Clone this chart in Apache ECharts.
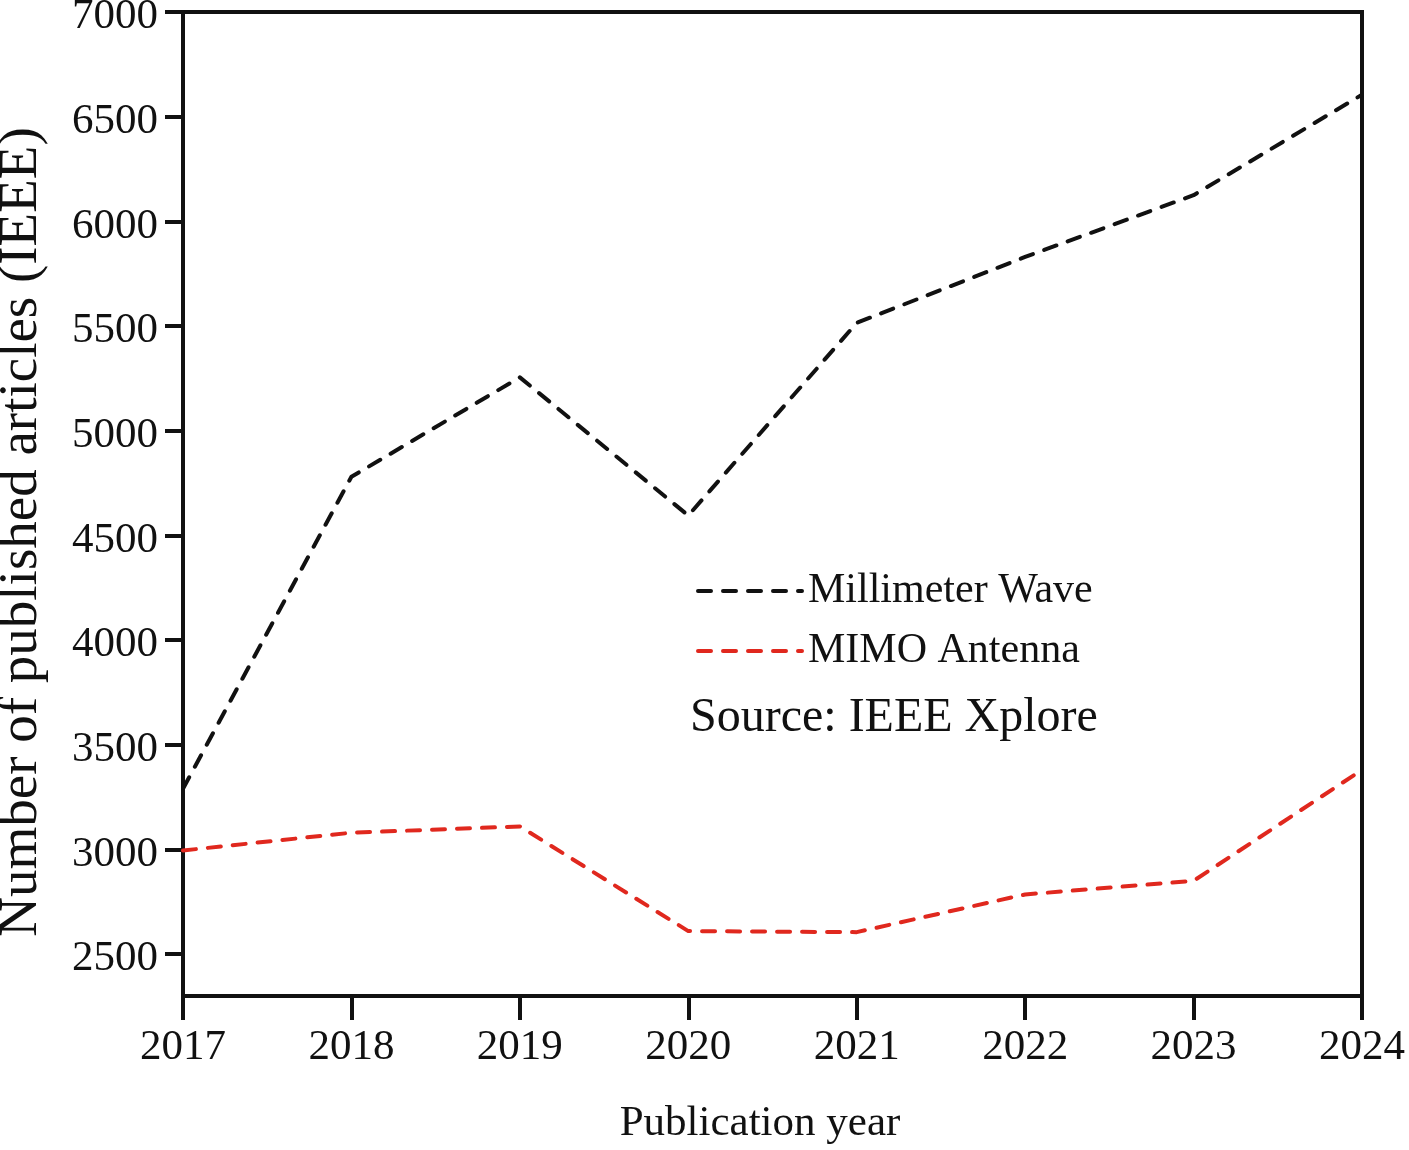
<!DOCTYPE html>
<html>
<head>
<meta charset="utf-8">
<script src="https://cdn.jsdelivr.net/npm/echarts@6/dist/echarts.min.js"></script>
<style>html,body{margin:0;padding:0;background:#fff}#c{width:1409px;height:1150px}</style>
</head>
<body>
<div id="c"></div>
<script>
const years = ['2017','2018','2019','2020','2021','2022','2023','2024'];
const millimeterWave = [3290, 4780, 5255, 4595, 5515, 5830, 6125, 6605];
const mimoAntenna = [2995, 3080, 3110, 2610, 2605, 2785, 2850, 3380];
const yTicks = [2500, 3000, 3500, 4000, 4500, 5000, 5500, 6000, 6500, 7000];

const FONT = '"Liberation Serif", "Times New Roman", serif';
const chart = echarts.init(document.getElementById('c'));
chart.setOption({
  animation: false,
  backgroundColor: '#fff',
  grid: { left: 183, right: 47, top: 12, bottom: 154, outerBoundsMode: 'none', containLabel: false,
    show: true, borderColor: '#111', borderWidth: 4, backgroundColor: 'transparent' },
  legend: {
    orient: 'vertical', left: 696, top: 570, itemWidth: 104, itemHeight: 40, itemGap: 18, padding: 0,
    itemStyle: { opacity: 0 },
    lineStyle: { width: 4, type: [13, 12], cap: 'round' },
    textStyle: { fontFamily: FONT, fontSize: 42, color: '#111', padding: [0, 0, 0, 1] },
    data: ['Millimeter Wave', 'MIMO Antenna']
  },
  xAxis: {
    type: 'category', data: years, boundaryGap: false,
    axisLine: { lineStyle: { color: '#111', width: 4 } },
    axisTick: { show: true, alignWithLabel: true, length: 24, lineStyle: { color: '#111', width: 4 } },
    axisLabel: { fontFamily: FONT, fontSize: 43, color: '#111', margin: 30 },
    splitLine: { show: false }
  },
  yAxis: {
    type: 'value', min: 2300, max: 7000,
    axisLine: { show: true, lineStyle: { color: '#111', width: 4 } },
    axisTick: { show: true, length: 18, customValues: yTicks, lineStyle: { color: '#111', width: 4 } },
    axisLabel: { fontFamily: FONT, fontSize: 43, color: '#111', margin: 25, customValues: yTicks,
      verticalAlign: 'top', lineHeight: 10, formatter: v => String(v) },
    splitLine: { show: false }
  },
  graphic: [
    { type: 'text', left: 690, top: 694, style: { text: 'Source: IEEE Xplore', fontFamily: FONT, fontSize: 48, fill: '#111' } },
    { type: 'text', x: 22, y: 532, rotation: Math.PI / 2, style: { text: 'Number of published articles (IEEE)', fontFamily: FONT, fontSize: 55, fill: '#111', align: 'center', verticalAlign: 'middle' } },
    { type: 'text', x: 760, y: 1124, style: { text: 'Publication year', fontFamily: FONT, fontSize: 43, fill: '#111', align: 'center', verticalAlign: 'middle' } }
  ],
  series: [
    { name: 'Millimeter Wave', type: 'line', data: millimeterWave, symbol: 'none', color: '#111',
      lineStyle: { color: '#111', width: 4, type: [13, 12], cap: 'round', join: 'round' } },
    { name: 'MIMO Antenna', type: 'line', data: mimoAntenna, symbol: 'none', color: '#e0281e',
      lineStyle: { color: '#e0281e', width: 4, type: [13, 12], cap: 'round', join: 'round' } }
  ]
});
</script>
</body>
</html>
